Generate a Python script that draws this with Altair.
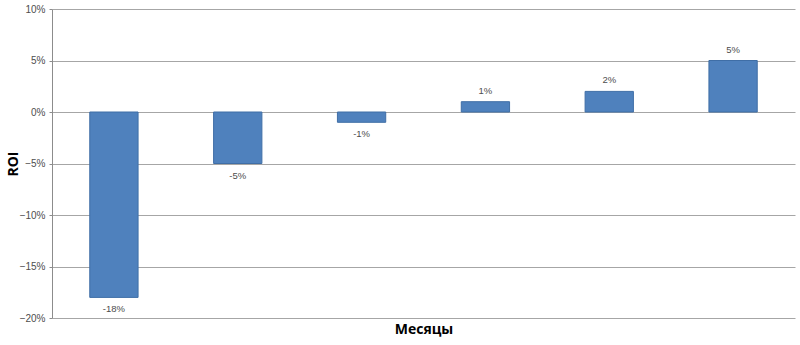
import altair as alt
import pandas as pd

months = ["1", "2", "3", "4", "5", "6"]
roi = [-0.18, -0.05, -0.01, 0.01, 0.02, 0.05]
labels = ["-18%", "-5%", "-1%", "1%", "2%", "5%"]

df = pd.DataFrame({"month": months, "roi": roi, "label": labels})

x = alt.X("month:N", sort=months, title="Месяцы",
          scale=alt.Scale(paddingInner=0.61, paddingOuter=0.305),
          axis=alt.Axis(labels=False, ticks=False, domain=False, grid=False,
                        titleFont="Open Sans", titleFontSize=14, titleFontWeight="bold",
                        titleColor="#000000", titlePadding=4))
y = alt.Y("roi:Q", title="ROI",
          scale=alt.Scale(domain=[-0.2, 0.1], nice=False),
          axis=alt.Axis(values=[-0.2, -0.15, -0.1, -0.05, 0, 0.05, 0.1], format=".0%",
                        labelFont="Liberation Sans", labelFontSize=10, labelColor="#4D4D4D",
                        labelPadding=4, tickSize=3, tickColor="#8C8C8C",
                        domainColor="#8C8C8C", gridColor="#A6A6A6",
                        titleFont="Open Sans", titleFontSize=14, titleFontWeight="bold",
                        titleColor="#000000", titleX=-39, titleY=154.5, titleBaseline="middle"))

bars = alt.Chart(df).mark_bar(color="#4F81BD", stroke="#3F6EA6", strokeWidth=1).encode(x=x, y=y)

neg = alt.Chart(df).transform_filter("datum.roi < 0").mark_text(
    baseline="top", dy=7, font="Liberation Sans", fontSize=9.5, color="#4D4D4D"
).encode(x=alt.X("month:N", sort=months), y="roi:Q", text="label:N")

pos = alt.Chart(df).transform_filter("datum.roi >= 0").mark_text(
    baseline="bottom", dy=-6, font="Liberation Sans", fontSize=9.5, color="#4D4D4D"
).encode(x=alt.X("month:N", sort=months), y="roi:Q", text="label:N")

chart = alt.layer(bars, neg, pos).properties(
    width=743, height=309,
    padding={"left": 52, "top": 9, "right": 5, "bottom": 27},
    autosize=alt.AutoSizeParams(type="none"),
    background="white",
).configure_view(stroke=None)

chart.save("out.html", embed_options={"renderer": "svg", "actions": False})
